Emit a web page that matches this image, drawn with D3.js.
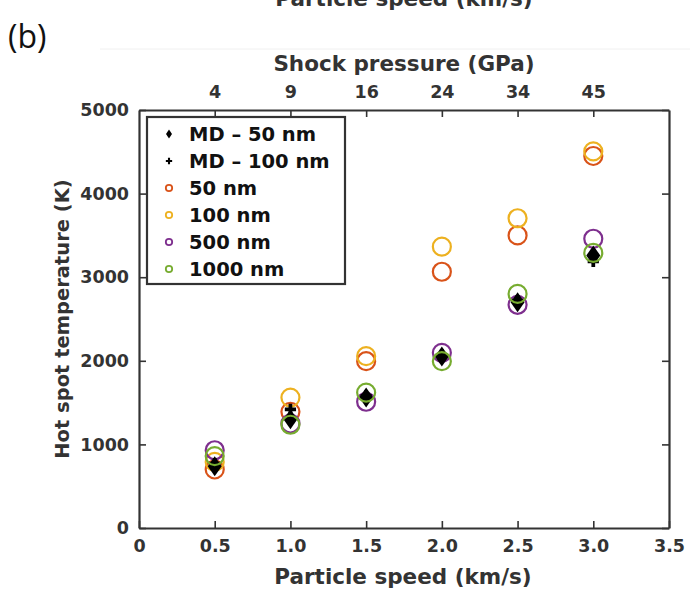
<!DOCTYPE html>
<html><head><meta charset="utf-8">
<script src="https://cdn.jsdelivr.net/npm/d3@7"></script>
<style>body{margin:0;background:#fff}svg{display:block}</style>
</head><body>
<script>
const speeds = [0.5, 1.0, 1.5, 2.0, 2.5, 3.0];
const pressureLabels = ["4", "9", "16", "24", "34", "45"];
const xTicks = [0, 0.5, 1.0, 1.5, 2.0, 2.5, 3.0, 3.5];
const yTicks = [0, 1000, 2000, 3000, 4000, 5000];
const md50 = [740, 1300, 1560, 2050, 2700, 3260];
const md100 = [770, 1420, 1580, 2070, 2720, 3190];
const nm50 = [700, 1390, 1995, 3065, 3500, 4450];
const nm100 = [790, 1560, 2055, 3365, 3705, 4505];
const nm500 = [930, 1250, 1510, 2095, 2670, 3460];
const nm1000 = [860, 1235, 1620, 1995, 2800, 3290];

(function () {
const W = 690, H = 589;
const svg = d3.select("body").append("svg").attr("width", W).attr("height", H);
const x = d3.scaleLinear().domain([0, 3.5]).range([139, 669]);
const y = d3.scaleLinear().domain([0, 5000]).range([528, 110]);
const font = "'DejaVu Sans', sans-serif";
const axisCol = "#333";

svg.append("line").attr("x1", 100).attr("x2", 690).attr("y1", 49).attr("y2", 49)
  .attr("stroke", "#f0f0f0").attr("stroke-width", 1);
svg.append("text").attr("x", 404).attr("y", 6).attr("text-anchor", "middle")
  .attr("font-family", font).attr("font-weight", "bold").attr("font-size", 21.5)
  .attr("fill", "#333").text("Particle speed (km/s)");
svg.append("text").attr("x", 8).attr("y", 48)
  .attr("font-family", "'Open Sans', sans-serif").attr("font-size", 32)
  .attr("fill", "#111").text("(b)");

const axBottom = d3.axisBottom(x).tickValues(xTicks).tickSizeInner(-7).tickSizeOuter(0)
  .tickPadding(12).tickFormat(d => d === 0 ? "0" : d3.format(".1f")(d));
const axTop = d3.axisTop(x).tickValues(speeds).tickSizeInner(-7).tickSizeOuter(0)
  .tickPadding(12).tickFormat((d, i) => pressureLabels[i]);
const axLeft = d3.axisLeft(y).tickValues(yTicks).tickSizeInner(-7).tickSizeOuter(0)
  .tickPadding(10).tickFormat(d3.format("d"));
const axRight = d3.axisRight(y).tickValues(yTicks).tickSizeInner(-7).tickSizeOuter(0)
  .tickFormat("");

function styleAxis(g) {
  g.select(".domain").attr("stroke", axisCol).attr("stroke-width", 2.2);
  g.selectAll(".tick line").attr("stroke", axisCol).attr("stroke-width", 1.6);
  g.selectAll("text").attr("font-family", font).attr("font-weight", "bold")
    .attr("font-size", 17.5).attr("fill", "#333");
}
svg.append("g").attr("transform", "translate(0,528)").call(axBottom).call(styleAxis);
svg.append("g").attr("transform", "translate(0,110)").call(axTop).call(styleAxis);
svg.append("g").attr("transform", "translate(139,0)").call(axLeft).call(styleAxis);
svg.append("g").attr("transform", "translate(669,0)").call(axRight).call(styleAxis);

svg.append("text").attr("x", 403).attr("y", 584).attr("text-anchor", "middle")
  .attr("font-family", font).attr("font-weight", "bold").attr("font-size", 21.5)
  .attr("fill", "#333").text("Particle speed (km/s)");
svg.append("text").attr("x", 404).attr("y", 71).attr("text-anchor", "middle")
  .attr("font-family", font).attr("font-weight", "bold").attr("font-size", 21.5)
  .attr("fill", "#333").text("Shock pressure (GPa)");
svg.append("text").attr("transform", "translate(69,319) rotate(-90)").attr("text-anchor", "middle")
  .attr("font-family", font).attr("font-weight", "bold").attr("font-size", 19.5)
  .attr("fill", "#333").text("Hot spot temperature (K)");

const colors = { nm50: "#D95319", nm100: "#EDB120", nm500: "#7E2F8E", nm1000: "#77AC30" };
const plot = svg.append("g");
function circles(vals, col) {
  plot.append("g").selectAll("circle").data(vals).join("circle")
    .attr("cx", (d, i) => x(speeds[i])).attr("cy", d => y(d)).attr("r", 9)
    .attr("fill", "none").attr("stroke", col).attr("stroke-width", 2.2);
}
function diamonds(vals) {
  plot.append("g").selectAll("path").data(vals).join("path")
    .attr("transform", (d, i) => `translate(${x(speeds[i])},${y(d)})`)
    .attr("d", "M0,-10L7,0L0,10L-7,0Z").attr("fill", "#000");
}
function crosses(vals) {
  plot.append("g").selectAll("path").data(vals).join("path")
    .attr("transform", (d, i) => `translate(${x(speeds[i])},${y(d)})`)
    .attr("d", d3.symbol(d3.symbolCross, 70)()).attr("fill", "#000");
}
circles(nm50, colors.nm50);
circles(nm100, colors.nm100);
circles(nm500, colors.nm500);
diamonds(md50);
crosses(md100);
circles(nm1000, colors.nm1000);

const lg = svg.append("g");
lg.append("rect").attr("x", 147).attr("y", 117).attr("width", 198).attr("height", 167)
  .attr("fill", "#fff").attr("stroke", axisCol).attr("stroke-width", 2.2);
const items = [
  { label: "MD \u2013 50 nm", type: "diamond" },
  { label: "MD \u2013 100 nm", type: "cross" },
  { label: "50 nm", type: "c", col: colors.nm50 },
  { label: "100 nm", type: "c", col: colors.nm100 },
  { label: "500 nm", type: "c", col: colors.nm500 },
  { label: "1000 nm", type: "c", col: colors.nm1000 }
];
items.forEach((it, i) => {
  const cy = 134 + i * 27;
  if (it.type === "diamond") {
    lg.append("path").attr("transform", `translate(169,${cy})`).attr("d", "M0,-4.5L3,0L0,4.5L-3,0Z").attr("fill", "#000");
  } else if (it.type === "cross") {
    lg.append("path").attr("transform", `translate(169,${cy})`).attr("d", d3.symbol(d3.symbolCross, 22)()).attr("fill", "#000");
  } else {
    lg.append("circle").attr("cx", 169).attr("cy", cy).attr("r", 3.2).attr("fill", "none")
      .attr("stroke", it.col).attr("stroke-width", 1.8);
  }
  lg.append("text").attr("x", 189).attr("y", cy + 7).attr("font-family", font)
    .attr("font-weight", "bold").attr("font-size", 19.5).attr("fill", "#111").text(it.label);
});
})();
</script>
</body></html>
